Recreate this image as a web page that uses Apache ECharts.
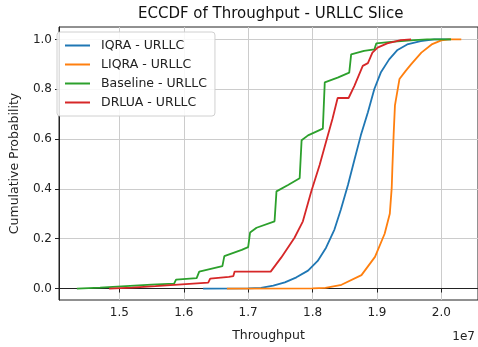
<!DOCTYPE html>
<html>
<head>
<meta charset="utf-8">
<script src="https://cdn.jsdelivr.net/npm/echarts@6/dist/echarts.min.js"></script>
<style>html,body{margin:0;padding:0;background:#fff}#c{width:478px;height:347px}</style>
</head>
<body>
<div id="c"></div>
<script>
// Throughput in units of 1e7, cumulative probability
const seriesNames = ['IQRA - URLLC', 'LIQRA - URLLC', 'Baseline - URLLC', 'DRLUA - URLLC'];
const xTicks = [1.5, 1.6, 1.7, 1.8, 1.9, 2.0];
const yTicks = [0, 0.2, 0.4, 0.6, 0.8, 1.0];

const iqra = [[1.63,0],[1.70,0.001],[1.72,0.003],[1.739,0.012],[1.757,0.025],[1.775,0.045],[1.793,0.072],[1.808,0.111],[1.821,0.164],[1.834,0.237],[1.844,0.317],[1.855,0.416],[1.865,0.516],[1.875,0.615],[1.886,0.708],[1.896,0.801],[1.906,0.867],[1.919,0.92],[1.932,0.958],[1.947,0.98],[1.968,0.993],[1.989,1.0],[2.015,1.0]];
const liqra = [[1.667,0],[1.80,0.001],[1.82,0.003],[1.845,0.015],[1.876,0.054],[1.897,0.127],[1.912,0.22],[1.92,0.3],[1.923,0.405],[1.924,0.484],[1.926,0.62],[1.928,0.735],[1.935,0.841],[1.945,0.875],[1.953,0.9],[1.969,0.947],[1.985,0.98],[2.0,0.996],[2.012,1.0],[2.031,1.0]];
const baseline = [[1.434,0],[1.47,0.004],[1.51,0.01],[1.55,0.016],[1.585,0.02],[1.588,0.036],[1.62,0.042],[1.624,0.068],[1.66,0.09],[1.663,0.13],[1.69,0.155],[1.70,0.166],[1.703,0.225],[1.713,0.244],[1.741,0.27],[1.744,0.39],[1.762,0.416],[1.78,0.443],[1.783,0.595],[1.793,0.615],[1.816,0.642],[1.819,0.828],[1.839,0.847],[1.857,0.867],[1.86,0.94],[1.88,0.954],[1.896,0.96],[1.899,0.984],[1.922,0.99],[1.958,0.997],[1.978,1.0],[2.015,1.0]];
const drlua = [[1.484,0],[1.52,0.004],[1.556,0.01],[1.603,0.018],[1.638,0.024],[1.641,0.04],[1.67,0.047],[1.677,0.05],[1.679,0.068],[1.735,0.068],[1.7515,0.125],[1.772,0.204],[1.785,0.27],[1.798,0.39],[1.811,0.496],[1.821,0.589],[1.831,0.682],[1.839,0.765],[1.856,0.765],[1.865,0.814],[1.878,0.894],[1.886,0.905],[1.893,0.947],[1.901,0.967],[1.916,0.984],[1.937,0.997],[1.953,1.0]];

const colors = ['#1f77b4', '#ff7f0e', '#2ca02c', '#d62728'];
const datas = [iqra, liqra, baseline, drlua];
const font = 'DejaVu Sans';

const chart = echarts.init(document.getElementById('c'));
chart.setOption({
  animation: false,
  backgroundColor: '#fff',
  title: {
    text: 'ECCDF of Throughput - URLLC Slice',
    left: 133, top: 2,
    textStyle: { fontFamily: font, fontSize: 15, fontWeight: 'normal', color: '#111' }
  },
  grid: { left: 55, right: -2, top: 27, bottom: 44, show: true, borderColor: '#222', borderWidth: 1 },
  legend: {
    orient: 'vertical', left: 57, top: 32,
    data: seriesNames.map(n => ({ name: n, icon: 'rect' })),
    itemWidth: 25, itemHeight: 2, itemGap: 6,
    padding: [7, 8, 7, 8],
    backgroundColor: 'rgba(255,255,255,0.85)',
    borderColor: '#d0d0d0', borderWidth: 1, borderRadius: 3,
    textStyle: { fontFamily: font, fontSize: 12.5, color: '#222', padding: [0, 0, 0, 6] }
  },
  xAxis: {
    type: 'value', min: 1.4062, max: 2.057,
    name: 'Throughput', nameLocation: 'middle', nameGap: 29,
    nameTextStyle: { fontFamily: font, fontSize: 12.5, color: '#222' },
    axisLine: { show: true, lineStyle: { color: '#222' } },
    axisTick: { show: true, customValues: xTicks, length: 4, lineStyle: { color: '#222' } },
    axisLabel: { customValues: xTicks, formatter: v => v.toFixed(1), fontFamily: font, fontSize: 12, color: '#222', margin: 7 },
    splitLine: { show: true, lineStyle: { color: '#cccccc', width: 1 } }
  },
  yAxis: {
    type: 'value', min: -0.046, max: 1.05,
    name: 'Cumulative Probability', nameLocation: 'middle', nameGap: 38, nameRotate: 90,
    nameTextStyle: { fontFamily: font, fontSize: 12.5, color: '#222' },
    axisLine: { show: true, lineStyle: { color: '#222' } },
    axisTick: { show: true, customValues: yTicks, length: 4, lineStyle: { color: '#222' } },
    axisLabel: { customValues: yTicks, formatter: v => v.toFixed(1), fontFamily: font, fontSize: 12, color: '#222', margin: 7 },
    splitLine: { show: true, lineStyle: { color: '#cccccc', width: 1 } }
  },
  graphic: [{
    type: 'text', right: 3, bottom: 4,
    style: { text: '1e7', font: '12px "DejaVu Sans"', fill: '#222' }
  }],
  series: seriesNames.map((n, i) => ({
    name: n, type: 'line', data: datas[i], showSymbol: false, symbol: 'none',
    lineStyle: { color: colors[i], width: 1.8 }, itemStyle: { color: colors[i] },
    z: 2 + i
  }))
});
</script>
</body>
</html>
